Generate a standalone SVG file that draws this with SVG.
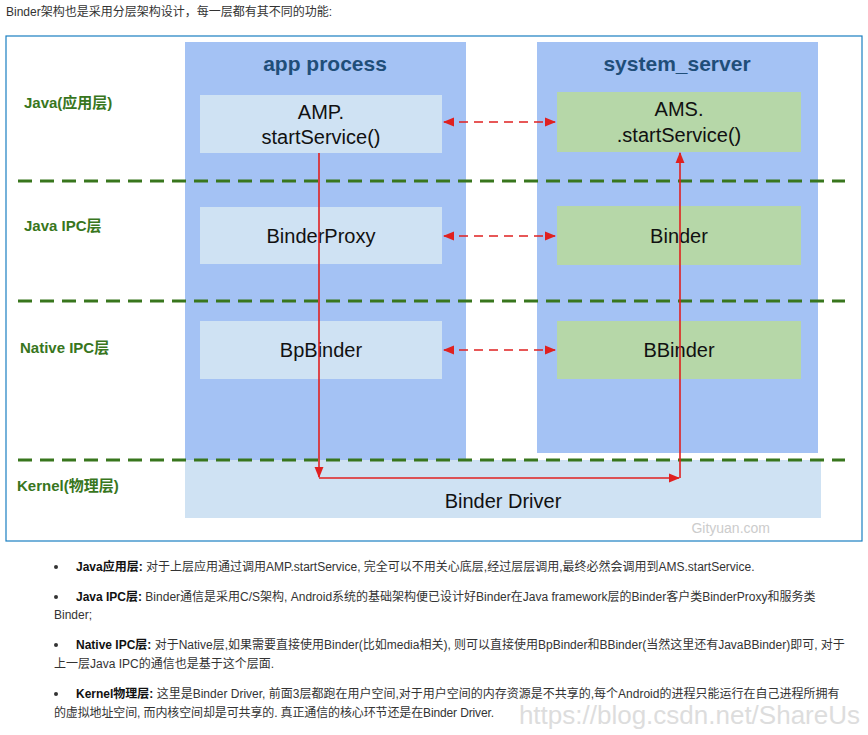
<svg xmlns="http://www.w3.org/2000/svg" width="868" height="735" viewBox="0 0 868 735">
<defs>
<style>
.panel{fill:#a4c2f4}
.lb{fill:#cfe2f3}
.gb{fill:#b6d7a8}
.t{font-family:"Liberation Sans",Arial,sans-serif;font-size:20px;fill:#111;text-anchor:middle}
.h{font-family:"Liberation Sans",Arial,sans-serif;font-size:21px;font-weight:bold;fill:#1f4e79;text-anchor:middle}
.lay{font-family:"Liberation Sans","Noto Sans CJK SC",sans-serif;font-size:15px;font-weight:bold;fill:#38761d}
.sep{stroke:#38761d;stroke-width:3;stroke-dasharray:14,8}
.red{stroke:#e02020;stroke-width:1.6;fill:none}
.dash{stroke-dasharray:9,6}
.p{font-family:"Liberation Sans","Noto Sans CJK SC",sans-serif;font-size:12px;fill:#333}
.pb{font-weight:bold;fill:#111}
</style>
<marker id="ar" viewBox="0 0 10 10" refX="9" refY="5" markerWidth="7" markerHeight="7" orient="auto-start-reverse"><path d="M0,1 L10,5 L0,9 z" fill="#e02020"/></marker>
</defs>
<rect width="868" height="735" fill="#fff"/>
<text x="6" y="16" class="p">Binder架构也是采用分层架构设计，每一层都有其不同的功能:</text>
<rect x="6" y="36" width="856" height="505" fill="none" stroke="#1a7fc1" stroke-width="1.2"/>
<g id="app"><rect class="panel" x="185" y="42" width="281" height="418"/><text class="h" x="325" y="71">app process</text></g>
<g id="sys"><rect class="panel" x="537" y="42" width="281" height="411"/><text class="h" x="677" y="71">system_server</text></g>
<g id="driver"><rect class="lb" x="185" y="460" width="636" height="58"/><text class="t" x="503" y="508">Binder Driver</text></g>
<text x="770" y="533" font-family="Liberation Sans,sans-serif" font-size="14" fill="#ccc" text-anchor="end">Gityuan.com</text>
<g id="amp"><rect class="lb" x="200" y="95" width="242" height="58"/><text class="t" x="321" y="119">AMP.</text><text class="t" x="321" y="144">startService()</text></g>
<g id="ams"><rect class="gb" x="557" y="92" width="244" height="60"/><text class="t" x="679" y="116">AMS.</text><text class="t" x="679" y="142">.startService()</text></g>
<g id="bp"><rect class="lb" x="200" y="207" width="242" height="57"/><text class="t" x="321" y="243">BinderProxy</text></g>
<g id="binder"><rect class="gb" x="557" y="206" width="244" height="59"/><text class="t" x="679" y="243">Binder</text></g>
<g id="bpb"><rect class="lb" x="200" y="321" width="242" height="58"/><text class="t" x="321" y="357">BpBinder</text></g>
<g id="bb"><rect class="gb" x="557" y="321" width="244" height="58"/><text class="t" x="679" y="357">BBinder</text></g>
<g id="layers">
<line class="sep" x1="18" y1="181" x2="845" y2="181"/>
<line class="sep" x1="18" y1="301" x2="845" y2="301"/>
<line class="sep" x1="18" y1="460" x2="845" y2="460"/>
<text class="lay" x="24" y="108">Java(应用层)</text>
<text class="lay" x="24" y="231">Java IPC层</text>
<text class="lay" x="20" y="353">Native IPC层</text>
<text class="lay" x="17" y="491">Kernel(物理层)</text>
</g>
<g id="connectors">
<line class="red dash" x1="444" y1="122" x2="555" y2="122" marker-start="url(#ar)" marker-end="url(#ar)"/>
<line class="red dash" x1="444" y1="236" x2="555" y2="236" marker-start="url(#ar)" marker-end="url(#ar)"/>
<line class="red dash" x1="444" y1="350" x2="555" y2="350" marker-start="url(#ar)" marker-end="url(#ar)"/>
<line class="red" x1="319" y1="153" x2="319" y2="477" marker-end="url(#ar)"/>
<line class="red" x1="319" y1="478" x2="679" y2="478" marker-end="url(#ar)"/>
<line class="red" x1="680" y1="478" x2="680" y2="153" marker-end="url(#ar)"/>
</g>
<g class="p">
<circle cx="56" cy="567" r="2" fill="#333"/>
<text x="76" y="571"><tspan class="pb">Java应用层:</tspan> 对于上层应用通过调用AMP.startService, 完全可以不用关心底层,经过层层调用,最终必然会调用到AMS.startService.</text>
<circle cx="56" cy="597" r="2" fill="#333"/>
<text x="76" y="601"><tspan class="pb">Java IPC层:</tspan> Binder通信是采用C/S架构, Android系统的基础架构便已设计好Binder在Java framework层的Binder客户类BinderProxy和服务类</text>
<text x="54" y="619">Binder;</text>
<circle cx="56" cy="645" r="2" fill="#333"/>
<text x="76" y="649"><tspan class="pb">Native IPC层:</tspan> 对于Native层,如果需要直接使用Binder(比如media相关), 则可以直接使用BpBinder和BBinder(当然这里还有JavaBBinder)即可, 对于</text>
<text x="54" y="668">上一层Java IPC的通信也是基于这个层面.</text>
<circle cx="56" cy="694" r="2" fill="#333"/>
<text x="76" y="698"><tspan class="pb">Kernel物理层:</tspan> 这里是Binder Driver, 前面3层都跑在用户空间,对于用户空间的内存资源是不共享的,每个Android的进程只能运行在自己进程所拥有</text>
<text x="54" y="717" textLength="440">的虚拟地址空间, 而内核空间却是可共享的. 真正通信的核心环节还是在Binder Driver.</text>
</g>
<text x="860" y="724" font-family="Liberation Sans,sans-serif" font-size="26" fill="#ddd" text-anchor="end">https://blog.csdn.net/ShareUs</text>
</svg>
